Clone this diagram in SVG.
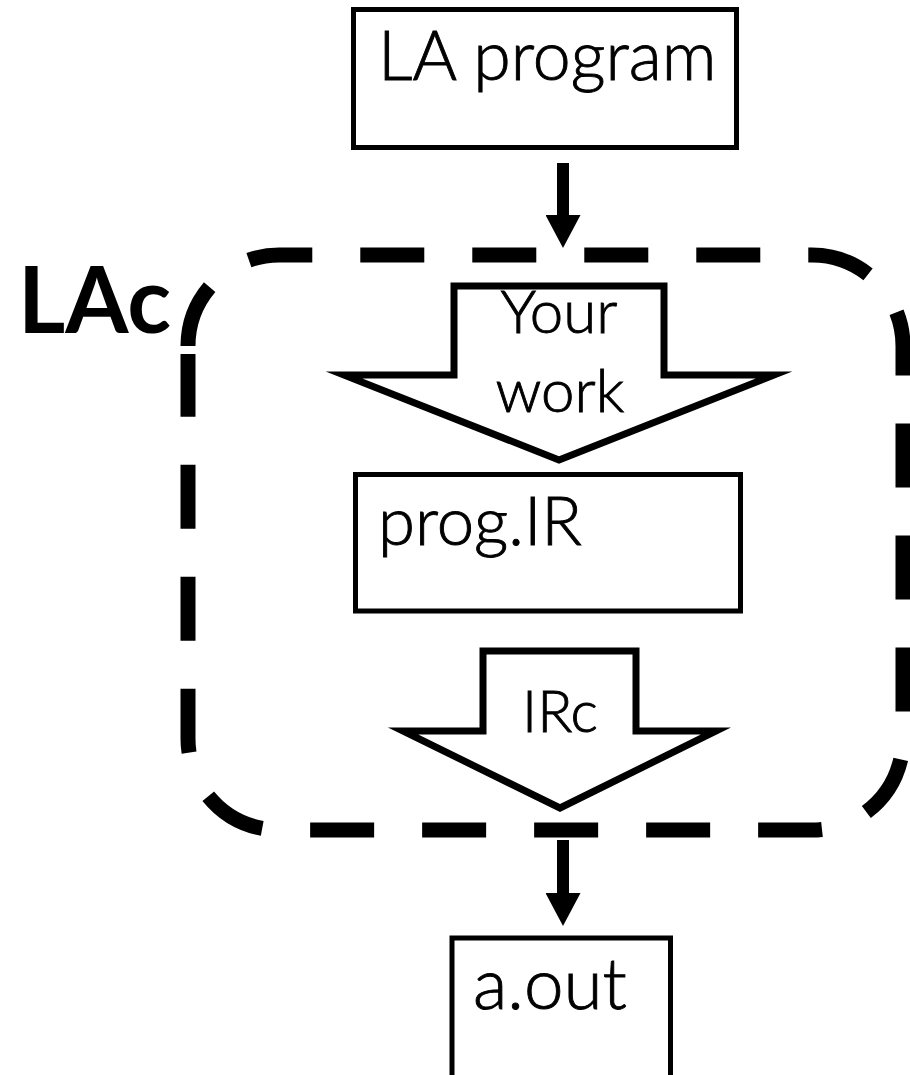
<svg xmlns="http://www.w3.org/2000/svg" width="910" height="1075" viewBox="0 0 910 1075">
<style>
.box{fill:#fff;stroke:#000;stroke-width:5}
.blk{fill:#fff;stroke:#000;stroke-width:7;stroke-miterlimit:10}
.t{font-family:Lato,"Open Sans","Liberation Sans",sans-serif;font-weight:300;fill:#000;stroke:#000;stroke-width:0.9}
.b{font-family:Lato,"Open Sans","Liberation Sans",sans-serif;font-weight:700;fill:#000}
.dash{fill:none;stroke:#000;stroke-width:15;stroke-dasharray:64 48;stroke-linecap:butt}
.conn{stroke:#000;stroke-width:12;fill:none}
</style>
<defs>
<marker id="ah" viewBox="0 0 33 35" refX="0" refY="17.5" markerWidth="33" markerHeight="35" markerUnits="userSpaceOnUse" orient="auto">
<path d="M0,0 L33,17.5 L0,35 z" fill="#000"/>
</marker>
</defs>
<g id="lac-boundary">
<path class="dash" d="M188,346 A91,91 0 0 1 279,255 H812 A91,91 0 0 1 903,346 V739 A91,91 0 0 1 812,830 H279 A91,91 0 0 1 188,739 V354"/>
<text class="b" x="18" y="333" font-size="91">LAc</text>
</g>
<g id="la-program">
<rect class="box" x="353.5" y="9.5" width="383" height="138"/>
<text class="t" x="378" y="80" font-size="68">LA program</text>
</g>
<g id="your-work">
<path class="blk" d="M454,286 H664 V375 H774 L559,460 L344,375 H454 Z"/>
<text class="t" x="559" y="333" font-size="60" text-anchor="middle">Your</text>
<text class="t" x="560" y="412" font-size="60" text-anchor="middle">work</text>
</g>
<g id="prog-ir">
<rect class="box" x="355.5" y="474.5" width="385" height="136.5"/>
<text class="t" x="378" y="545" font-size="67">prog.IR</text>
</g>
<g id="irc">
<path class="blk" d="M483,651 H636 V731 H716 L560,808 L403,731 H483 Z"/>
<text class="t" x="560" y="732" font-size="58" text-anchor="middle">IRc</text>
</g>
<g id="a-out">
<rect class="box" x="452" y="938" width="218.5" height="160"/>
<text class="t" x="473" y="1009" font-size="71">a.out</text>
</g>
<g id="connectors">
<line class="conn" x1="563" y1="163" x2="563" y2="215" marker-end="url(#ah)"/>
<line class="conn" x1="563" y1="840" x2="563" y2="893" marker-end="url(#ah)"/>
</g>
</svg>
